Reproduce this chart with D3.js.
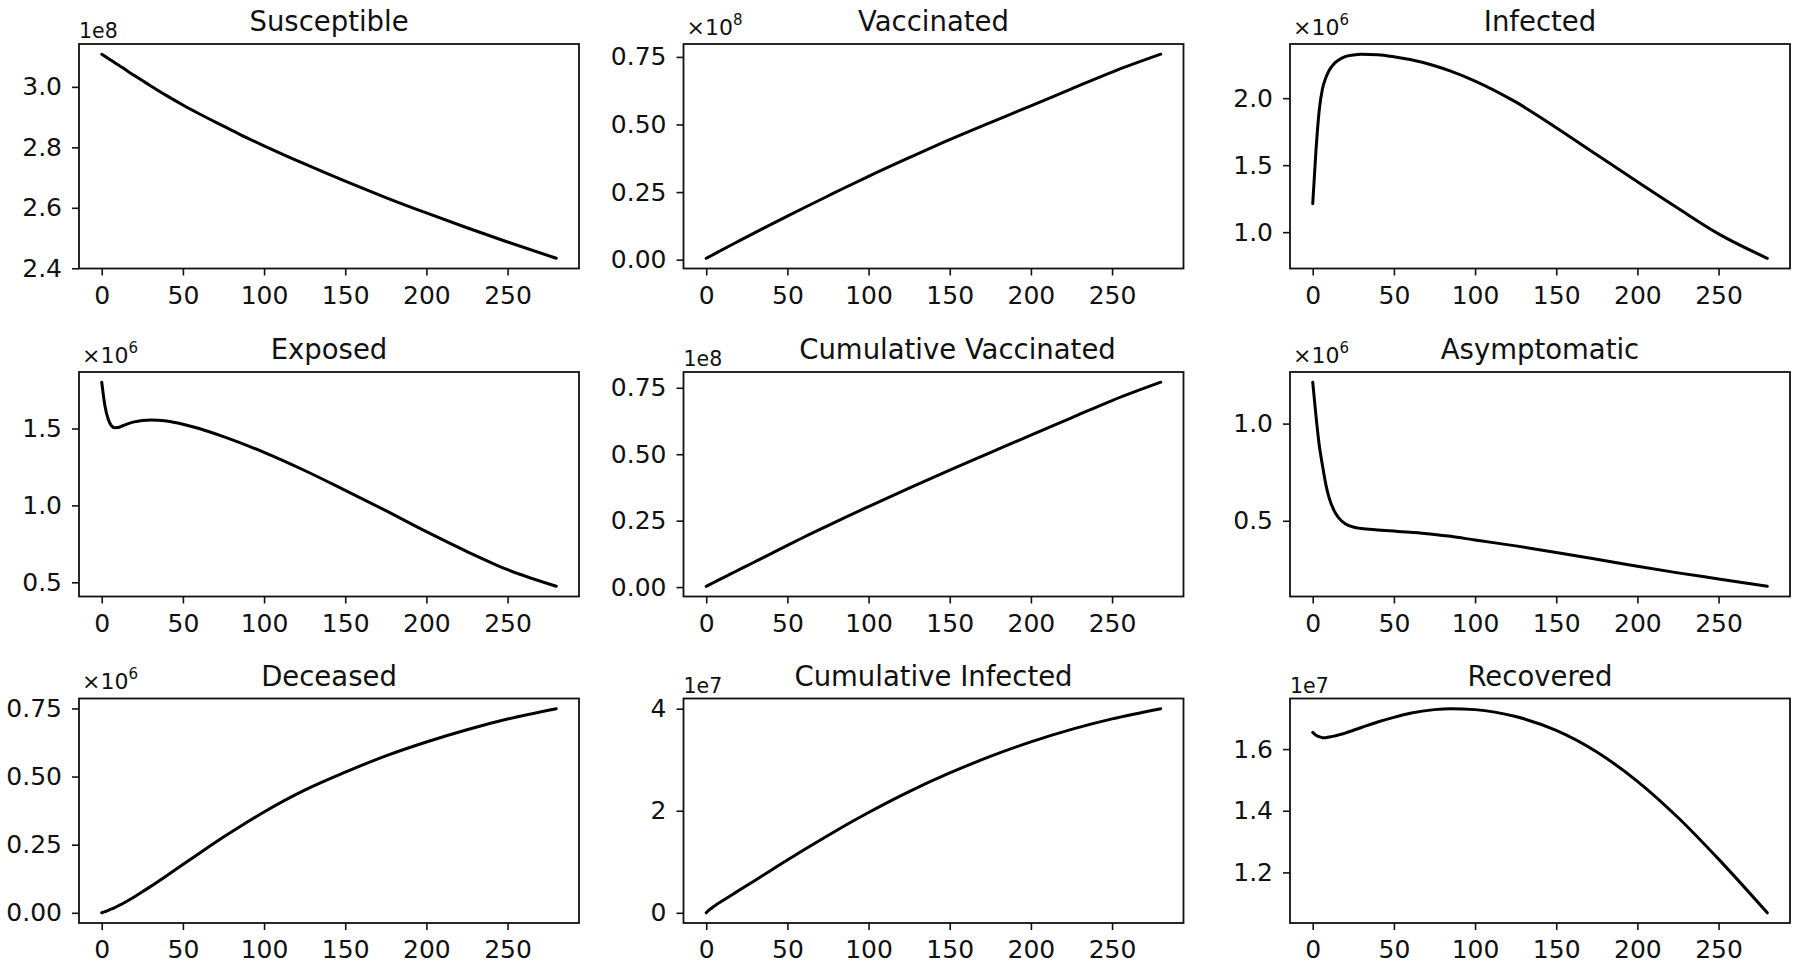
<!DOCTYPE html>
<html>
<head>
<meta charset="utf-8">
<script src="https://cdn.jsdelivr.net/npm/d3@7"></script>
<style>
  html, body { margin: 0; padding: 0; background: #ffffff; }
  svg { display: block; }
  text { font-family: "DejaVu Sans", sans-serif; fill: #111; }
</style>
</head>
<body>
<svg id="chart" width="1800" height="968"></svg>
<script>
// ---------------- data ----------------
const days = [0, 2, 4, 6, 8, 10, 13, 16, 20, 25, 30, 40, 50, 60, 75, 85, 100, 125, 150, 175, 200, 225, 250, 280];

const titles = ["Susceptible", "Vaccinated", "Infected",
                "Exposed", "Cumulative Vaccinated", "Asymptomatic",
                "Deceased", "Cumulative Infected", "Recovered"];

const susceptible = [3.108, 3.101, 3.094, 3.087, 3.080, 3.073, 3.063, 3.052, 3.038, 3.021, 3.004, 2.971, 2.940, 2.911, 2.870, 2.843, 2.805, 2.745, 2.688, 2.634, 2.583, 2.534, 2.487, 2.433];
const vaccinated = [0.005, 0.0114, 0.0178, 0.0242, 0.0306, 0.037, 0.0465, 0.056, 0.0686, 0.0843, 0.0998, 0.1306, 0.161, 0.191, 0.2355, 0.265, 0.308, 0.377, 0.444, 0.507, 0.569, 0.632, 0.694, 0.760];
const infected = [1.212, 1.61, 1.91, 2.07, 2.15, 2.205, 2.255, 2.285, 2.31, 2.322, 2.328, 2.324, 2.309, 2.288, 2.242, 2.202, 2.128, 1.972, 1.780, 1.578, 1.376, 1.178, 0.987, 0.805];
const exposed = [1.801, 1.646, 1.56, 1.518, 1.505, 1.506, 1.518, 1.530, 1.543, 1.552, 1.556, 1.549, 1.528, 1.500, 1.447, 1.408, 1.345, 1.227, 1.098, 0.966, 0.829, 0.700, 0.582, 0.474];
const cumVaccinated = [0.003, 0.0092, 0.0154, 0.0216, 0.0278, 0.034, 0.0432, 0.0524, 0.0647, 0.080, 0.0953, 0.126, 0.157, 0.1875, 0.2315, 0.2605, 0.303, 0.3725, 0.440, 0.506, 0.572, 0.637, 0.702, 0.771];
const asymptomatic = [1.213, 1.04, 0.89, 0.785, 0.69, 0.62, 0.555, 0.515, 0.485, 0.468, 0.460, 0.453, 0.447, 0.441, 0.430, 0.420, 0.401, 0.371, 0.337, 0.302, 0.266, 0.232, 0.201, 0.163];
const deceased = [0.0, 0.004, 0.009, 0.014, 0.019, 0.025, 0.034, 0.044, 0.058, 0.077, 0.096, 0.136, 0.177, 0.218, 0.278, 0.316, 0.370, 0.450, 0.516, 0.576, 0.627, 0.672, 0.711, 0.749];
const cumInfected = [0.0, 0.06, 0.11, 0.155, 0.195, 0.235, 0.295, 0.355, 0.435, 0.535, 0.635, 0.835, 1.035, 1.23, 1.515, 1.70, 1.965, 2.375, 2.74, 3.065, 3.35, 3.595, 3.80, 4.00];
const recovered = [1.654, 1.645, 1.640, 1.637, 1.637, 1.639, 1.642, 1.646, 1.652, 1.661, 1.670, 1.688, 1.703, 1.716, 1.728, 1.731, 1.728, 1.7055, 1.6605, 1.5905, 1.4955, 1.378, 1.243, 1.069];

const xTicks = [0, 50, 100, 150, 200, 250];
const yTicksList = [
  [2.4, 2.6, 2.8, 3.0],
  [0, 0.25, 0.5, 0.75],
  [1.0, 1.5, 2.0],
  [0.5, 1.0, 1.5],
  [0, 0.25, 0.5, 0.75],
  [0.5, 1.0],
  [0, 0.25, 0.5, 0.75],
  [0, 2, 4],
  [1.2, 1.4, 1.6]
];
const yTickFormats = [".1f", ".2f", ".1f", ".1f", ".2f", ".1f", ".2f", "d", ".1f"];
// offset labels: style "e" => "1eN", style "x" => "×10^N"
const offsetStyles = ["e", "x", "x", "x", "e", "x", "x", "e", "e"];
const offsetExps = [8, 8, 6, 6, 8, 6, 6, 7, 7];

const seriesList = [susceptible, vaccinated, infected, exposed, cumVaccinated, asymptomatic, deceased, cumInfected, recovered];

// ---------------- layout ----------------
const colLeft = [79, 683.5, 1290];
const rowTop = [44, 372, 698.5];
const pw = 500, ph = 224.5;
const titleShift = [0, 0, 0, 0, 24, 0, 0, 0, 0];

const svg = d3.select("#chart");
svg.append("rect").attr("width", 1800).attr("height", 968).attr("fill", "#fff");

seriesList.forEach((vals, i) => {
  const r = Math.floor(i / 3), c = i % 3;
  const g = svg.append("g").attr("transform", `translate(${colLeft[c]},${rowTop[r]})`);

  const x = d3.scaleLinear().domain([-14, 294]).range([0, pw]);
  const [mn, mx] = d3.extent(vals);
  const pad = (mx - mn) * 0.05;
  const y = d3.scaleLinear().domain([mn - pad, mx + pad]).range([ph, 0]);

  const xAxis = d3.axisBottom(x).tickValues(xTicks).tickFormat(d3.format("d"))
    .tickSize(7).tickPadding(10.5);
  const yAxis = d3.axisLeft(y).tickValues(yTicksList[i]).tickFormat(d3.format(yTickFormats[i]))
    .tickSize(7).tickPadding(10);

  const gx = g.append("g").attr("transform", `translate(0,${ph})`).call(xAxis);
  const gy = g.append("g").call(yAxis);
  [gx, gy].forEach(ax => {
    ax.select(".domain").remove();
    ax.selectAll(".tick line").attr("stroke", "#111").attr("stroke-width", 1.6);
    ax.selectAll(".tick text").attr("font-size", 25).attr("fill", "#111")
      .attr("font-family", "DejaVu Sans");
  });

  // data line
  const line = d3.line().x((d, k) => x(days[k])).y(d => y(d)).curve(d3.curveMonotoneX);
  g.append("path").datum(vals).attr("d", line)
    .attr("fill", "none").attr("stroke", "#000").attr("stroke-width", 3)
    .attr("stroke-linejoin", "round").attr("stroke-linecap", "round");

  // frame
  g.append("rect").attr("x", 0).attr("y", 0).attr("width", pw).attr("height", ph)
    .attr("fill", "none").attr("stroke", "#111").attr("stroke-width", 1.8);

  // title
  g.append("text").attr("x", pw / 2 + titleShift[i]).attr("y", -13).attr("text-anchor", "middle")
    .attr("font-size", 27.5).text(titles[i]);

  // offset text
  if (offsetStyles[i] === "e") {
    g.append("text").attr("x", 0).attr("y", -6).attr("font-size", 20.5)
      .text("1e" + offsetExps[i]);
  } else {
    const t = g.append("text").attr("x", 3).attr("y", -9.5).attr("font-size", 22);
    t.append("tspan").text("×10");
    t.append("tspan").attr("font-size", 15).attr("dy", -10).text(String(offsetExps[i]));
  }
});
</script>
</body>
</html>
